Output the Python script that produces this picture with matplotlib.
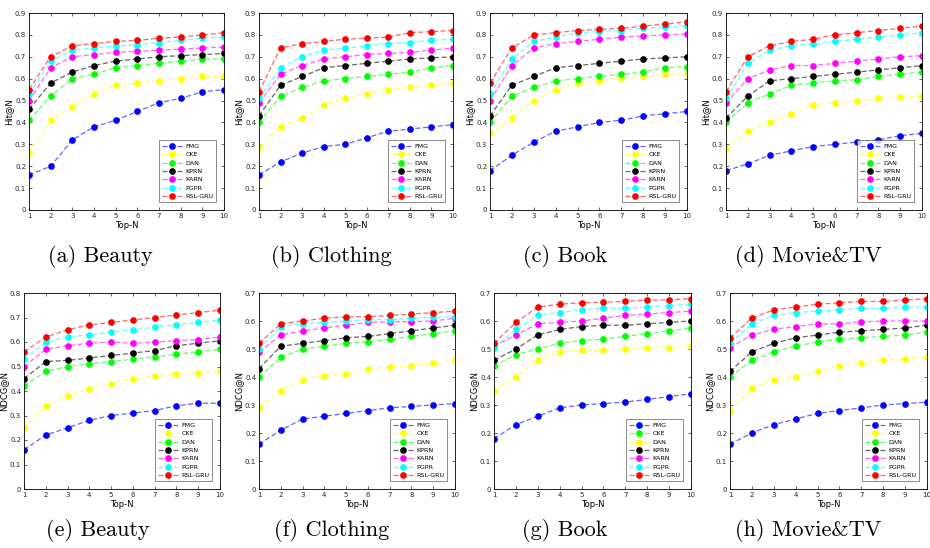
import matplotlib
matplotlib.use("Agg")
import matplotlib.pyplot as plt
from matplotlib.colors import to_rgb
import numpy as np

topn = list(range(1, 11))
methods = ["FMG", "CKE", "DAN", "KPRN", "KARN", "PGPR", "RSL-GRU"]
colors = ["#0000ff", "#ffff00", "#00ff00", "#000000", "#ff00ff", "#00ffff", "#ff0000"]

# Hit@N
hit_beauty = [
    [.16, .20, .32, .38, .41, .45, .49, .51, .54, .55],
    [.26, .41, .47, .53, .57, .58, .59, .60, .61, .61],
    [.41, .52, .60, .62, .65, .66, .67, .68, .69, .69],
    [.46, .58, .63, .66, .68, .69, .70, .705, .71, .715],
    [.50, .65, .70, .71, .72, .725, .73, .735, .74, .745],
    [.53, .68, .73, .74, .75, .755, .765, .775, .785, .79],
    [.55, .70, .75, .76, .77, .775, .785, .79, .80, .81],
]
hit_clothing = [
    [.16, .22, .26, .29, .30, .33, .36, .37, .38, .39],
    [.29, .38, .42, .48, .51, .53, .55, .56, .57, .58],
    [.40, .52, .56, .59, .60, .61, .62, .63, .65, .66],
    [.43, .57, .61, .65, .66, .67, .68, .69, .695, .70],
    [.49, .62, .66, .69, .70, .71, .715, .72, .73, .74],
    [.51, .65, .70, .73, .74, .75, .76, .765, .775, .78],
    [.54, .74, .76, .77, .78, .785, .79, .81, .815, .82],
]
hit_book = [
    [.18, .25, .31, .36, .38, .40, .41, .43, .44, .45],
    [.35, .42, .50, .55, .58, .59, .605, .61, .62, .625],
    [.40, .52, .56, .59, .60, .61, .62, .63, .65, .655],
    [.43, .57, .61, .65, .66, .67, .68, .69, .695, .70],
    [.50, .66, .74, .76, .77, .78, .79, .795, .80, .805],
    [.53, .69, .77, .79, .81, .815, .82, .83, .835, .84],
    [.58, .74, .80, .81, .82, .825, .83, .84, .85, .86],
]
hit_movie = [
    [.18, .21, .25, .27, .29, .30, .31, .32, .34, .35],
    [.28, .36, .40, .44, .48, .49, .50, .51, .515, .52],
    [.40, .49, .53, .57, .58, .59, .595, .61, .62, .63],
    [.42, .52, .59, .60, .61, .62, .63, .64, .65, .66],
    [.49, .60, .64, .66, .66, .67, .68, .69, .70, .705],
    [.51, .67, .73, .75, .76, .77, .78, .79, .80, .81],
    [.54, .70, .75, .77, .78, .80, .81, .82, .83, .84],
]

# NDCG@N
ndcg_beauty = [
    [.16, .22, .25, .28, .30, .31, .32, .34, .35, .35],
    [.25, .34, .38, .41, .43, .45, .46, .47, .475, .48],
    [.42, .48, .50, .51, .52, .53, .54, .55, .56, .57],
    [.45, .52, .525, .535, .545, .555, .565, .585, .595, .605],
    [.50, .57, .585, .595, .60, .595, .60, .605, .61, .62],
    [.53, .60, .62, .63, .64, .65, .66, .67, .68, .69],
    [.56, .62, .65, .67, .68, .69, .70, .71, .72, .73],
]
ndcg_clothing = [
    [.16, .21, .25, .26, .27, .28, .29, .295, .30, .305],
    [.29, .35, .39, .405, .41, .43, .435, .44, .45, .46],
    [.40, .47, .50, .51, .52, .525, .535, .545, .555, .565],
    [.43, .51, .52, .53, .54, .545, .555, .565, .575, .585],
    [.49, .55, .565, .575, .585, .595, .597, .598, .60, .61],
    [.50, .58, .59, .595, .60, .605, .605, .61, .613, .615],
    [.52, .59, .60, .61, .615, .615, .62, .625, .63, .635],
]
# in the Book panel the legend lists CKE as green and DAN as yellow
ndcg_book = [
    [.18, .23, .26, .29, .30, .305, .31, .32, .33, .34],
    [.44, .48, .50, .52, .53, .535, .545, .555, .565, .575],
    [.35, .40, .46, .49, .495, .495, .50, .505, .505, .51],
    [.46, .50, .55, .57, .58, .585, .585, .59, .595, .60],
    [.51, .55, .59, .595, .60, .61, .62, .625, .63, .635],
    [.505, .57, .62, .63, .64, .645, .645, .65, .655, .66],
    [.52, .595, .65, .66, .665, .667, .67, .675, .675, .68],
]
ndcg_movie = [
    [.16, .20, .23, .25, .27, .28, .29, .30, .305, .31],
    [.28, .36, .39, .40, .42, .44, .45, .46, .465, .47],
    [.40, .46, .49, .51, .525, .535, .54, .545, .55, .56],
    [.42, .49, .52, .54, .55, .56, .565, .57, .575, .585],
    [.505, .55, .57, .58, .59, .59, .597, .60, .60, .60],
    [.52, .59, .62, .63, .635, .64, .645, .645, .65, .65],
    [.54, .61, .64, .65, .66, .665, .67, .67, .675, .68],
]
book_colors = ["#0000ff", "#00ff00", "#ffff00", "#000000", "#ff00ff", "#00ffff", "#ff0000"]

panels = [
    (hit_beauty, "Hit@N", 0.9, colors, "(a) Beauty"),
    (hit_clothing, "Hit@N", 0.9, colors, "(b) Clothing"),
    (hit_book, "Hit@N", 0.9, colors, "(c) Book"),
    (hit_movie, "Hit@N", 0.9, colors, "(d) Movie&TV"),
    (ndcg_beauty, "NDCG@N", 0.8, colors, "(e) Beauty"),
    (ndcg_clothing, "NDCG@N", 0.7, colors, "(f) Clothing"),
    (ndcg_book, "NDCG@N", 0.7, book_colors, "(g) Book"),
    (ndcg_movie, "NDCG@N", 0.7, colors, "(h) Movie&TV"),
]

W, H = 930, 548
# axes boxes in pixels: left, right, top, bottom
boxes = [
    (29, 224, 13, 210), (259, 453, 13, 210), (490, 687, 13, 210), (726, 922, 13, 210),
    (24, 220, 293, 489), (259, 455, 293, 489), (494, 691, 293, 489), (730, 927, 293, 489),
]
caption_x = [100, 331, 565, 808, 98, 332, 565, 808]
caption_y = [256, 256, 256, 256, 531, 531, 531, 531]


def light(c, f=0.4):
    r = np.array(to_rgb(c))
    return tuple(r + (1 - r) * f)


fig = plt.figure(figsize=(W / 100, H / 100), dpi=100)

for i, (data, ylab, ymax, cols, cap) in enumerate(panels):
    l, r, t, b = boxes[i]
    ax = fig.add_axes([l / W, 1 - b / H, (r - l) / W, (b - t) / H])
    for vals, name, c in zip(data, methods, cols):
        ax.plot(topn, vals, linestyle="--", dashes=(4, 2), linewidth=0.9,
                color=light(c), marker="o", markersize=3.8,
                markerfacecolor=c, markeredgecolor=c, label=name)
    ax.set_xlim(1, 10)
    ax.set_ylim(0, ymax)
    ax.set_xticks(topn)
    yt = np.round(np.arange(0, ymax + 0.001, 0.1), 1)
    ax.set_yticks(yt)
    ax.set_yticklabels([f"{v:g}" for v in yt])
    ax.tick_params(direction="in", length=2.5, width=0.5, labelsize=5,
                   top=True, right=True, pad=2, colors="#262626")
    for s in ax.spines.values():
        s.set_linewidth(0.6)
    ax.set_xlabel("Top-N", fontsize=6, labelpad=1.5)
    ax.set_ylabel(ylab, fontsize=6, labelpad=1)
    leg = ax.legend(loc="lower right", fontsize=4.6, handlelength=3.2,
                    borderaxespad=1.2, labelspacing=0.45, fancybox=False,
                    borderpad=0.5, handletextpad=0.4)
    leg.get_frame().set_edgecolor("#333333")
    leg.get_frame().set_linewidth(0.5)
    fig.text(caption_x[i] / W, 1 - caption_y[i] / H, cap, ha="center", va="center",
             family="cmr10", fontsize=16)

fig.savefig("out.png", dpi=100)
